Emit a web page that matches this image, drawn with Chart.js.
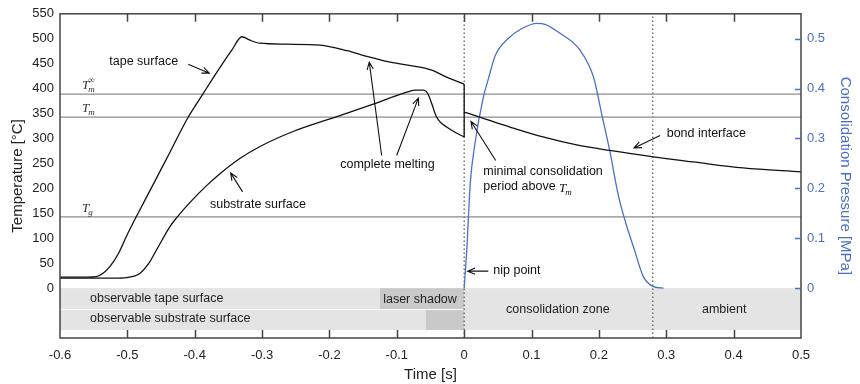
<!DOCTYPE html>
<html>
<head>
<meta charset="utf-8">
<script src="https://cdn.jsdelivr.net/npm/chart.js@4.4.0/dist/chart.umd.min.js"></script>
<style>
  html, body { margin: 0; background: #fff; }
  #wrap { width: 860px; height: 384px; }
</style>
</head>
<body>
<div id="wrap"><canvas id="myChart"></canvas></div>
<script>
(() => {
  'use strict'

  // tape surface temperature [°C] over time [s]
  const tapeTime = [-0.6, -0.56, -0.546, -0.536, -0.526, -0.513, -0.501, -0.486, -0.462, -0.437, -0.41, -0.387, -0.368, -0.345, -0.33, -0.318, -0.303, -0.264, -0.214, -0.174, -0.14, -0.11, -0.066, -0.046, -0.026, 0]
  const tapeTemp = [22, 22, 23, 30, 43, 70, 105, 145, 207, 272, 342, 391, 431, 477, 504, 497, 491, 489, 487, 476, 463, 453, 443, 436, 423, 409]

  // vertical drop at the nip point
  const jumpTime = [0, 0]
  const jumpTemp = [409, 303]

  // substrate surface temperature
  const subTime = [-0.6, -0.52, -0.501, -0.49, -0.481, -0.469, -0.457, -0.437, -0.427, -0.407, -0.382, -0.363, -0.333, -0.303, -0.254, -0.189, -0.135, -0.085, -0.072, -0.061, -0.056, -0.052, -0.048, -0.041, -0.034, -0.026, -0.013, 0]
  const subTemp = [20, 20, 21, 24, 30, 48, 76, 123, 141, 172, 206, 229, 260, 284, 314, 344, 369, 393, 397, 397, 394, 384, 369, 343, 331, 323, 312, 303]

  // bond interface temperature
  const bondTime = [0, 0.023, 0.068, 0.117, 0.167, 0.216, 0.281, 0.34, 0.414, 0.5]
  const bondTemp = [353, 343, 323, 303, 287, 276, 263, 253, 241, 233]

  // consolidation pressure [MPa]
  const presTime = [0, 0.004, 0.009, 0.016, 0.028, 0.036, 0.046, 0.065, 0.085, 0.108, 0.12, 0.14, 0.172, 0.192, 0.204, 0.216, 0.229, 0.24, 0.252, 0.266, 0.281, 0.296]
  const presVal = [0, 0.08, 0.21, 0.29, 0.38, 0.42, 0.466, 0.5, 0.52, 0.531, 0.529, 0.513, 0.477, 0.423, 0.35, 0.276, 0.185, 0.13, 0.08, 0.023, 0.003, 0]

  // reference temperatures T_m∞, T_m, T_g
  const refLevels = [389, 343, 143]
  const refSup = ['∞', '', '']
  const refSub = ['m', 'm', 'g']

  // dotted markers: nip point and end of consolidation
  const markerTimes = [0, 0.28]

  // zone band below the axis
  const zoneStart = [-0.6, -0.6, -0.125, -0.057, 0, 0.28]
  const zoneEnd = [-0.125, -0.057, 0, 0, 0.28, 0.5]
  const zoneRow = [1, 2, 1, 2, 0, 0]
  const zoneDark = [false, false, true, true, false, false]
  const zoneLabels = ['observable tape surface', 'observable substrate surface', 'laser shadow', 'consolidation zone', 'ambient']

  const xTicks = [-0.6, -0.5, -0.4, -0.3, -0.2, -0.1, 0, 0.1, 0.2, 0.3, 0.4, 0.5]
  const presTicks = [0, 0.1, 0.2, 0.3, 0.4, 0.5]

  const BLUE = '#4b6fc6'
  const SANS = '"Liberation Sans", Arial, sans-serif'
  const SERIF = '"Liberation Serif", "Times New Roman", serif'

  const pts = (xs, ys) => xs.map((x, i) => ({ x, y: ys[i] }))
  const line = (data, color, width, extra) => Object.assign({
    data, borderColor: color, borderWidth: width, pointRadius: 0,
    showLine: true, fill: false, tension: 0
  }, extra || {})
  const smooth = { cubicInterpolationMode: 'monotone' }

  const datasets = [
    line(pts(tapeTime, tapeTemp), '#111', 1.3, smooth),
    line(pts(jumpTime, jumpTemp), '#111', 1.3),
    line(pts(subTime, subTemp), '#111', 1.3, smooth),
    line(pts(bondTime, bondTemp), '#111', 1.3, smooth),
    line(pts(presTime, presVal), BLUE, 1.3, Object.assign({ yAxisID: 'y1' }, smooth))
  ]
  refLevels.forEach(v => {
    datasets.push(line([{ x: -0.6, y: v }, { x: 0.5, y: v }], '#8c8c8c', 1.3))
  })
  markerTimes.forEach(t => {
    datasets.push(line([{ x: t, y: -100 }, { x: t, y: 550 }], '#555', 1.2, { borderDash: [1.5, 2.5] }))
  })

  // annotation text, in data units
  const notes = [
    { text: 'tape surface', t: -0.5268, T: 454, align: 'left' },
    { text: 'substrate surface', t: -0.3774, T: 168, align: 'left' },
    { text: 'complete melting', t: -0.1139, T: 247, align: 'center' },
    { text: 'minimal consolidation', t: 0.0284, T: 233, align: 'left' },
    { text: 'period above ', t: 0.0284, T: 203, align: 'left', tm: true },
    { text: 'nip point', t: 0.0432, T: 35, align: 'left' },
    { text: 'bond interface', t: 0.3006, T: 309, align: 'left' }
  ]
  const arrows = [
    [-0.4096, 449, -0.3784, 431],
    [-0.3289, 193, -0.3467, 231],
    [-0.1225, 266, -0.1409, 453],
    [-0.1002, 266, -0.068, 381],
    [0.0468, 256, 0.0101, 334],
    [0.0358, 34, 0.0052, 34],
    [0.2907, 306, 0.2521, 281]
  ]
  const zoneText = [
    { t: -0.5555, T: -20, align: 'left' },
    { t: -0.5555, T: -62, align: 'left' },
    { t: -0.0656, T: -22, align: 'center' },
    { t: 0.139, T: -42, align: 'center' },
    { t: 0.386, T: -42, align: 'center' }
  ]

  const italicT = (ctx, x, y, sup, sub) => {
    ctx.font = 'italic 13px ' + SERIF
    ctx.textAlign = 'left'
    ctx.textBaseline = 'alphabetic'
    ctx.fillText('T', x, y)
    const w = ctx.measureText('T').width
    ctx.font = 'italic 9px ' + SERIF
    ctx.fillText(sub, x + w - 1, y + 3)
    if (sup) ctx.fillText(sup, x + w - 1, y - 6)
  }

  const zonePlugin = {
    id: 'zones',
    beforeDatasetsDraw (chart) {
      const { ctx, scales: { x, y } } = chart
      const rows = { 0: [0, -84], 1: [0, -42], 2: [-42, -84] }
      ctx.save()
      zoneStart.forEach((s, i) => {
        const [top, bot] = rows[zoneRow[i]]
        const x0 = x.getPixelForValue(s)
        const x1 = x.getPixelForValue(zoneEnd[i])
        const y0 = y.getPixelForValue(top) + (zoneRow[i] === 2 ? 1 : 0)
        const y1 = y.getPixelForValue(bot)
        ctx.fillStyle = zoneDark[i] ? '#c9c9c9' : '#e4e4e4'
        ctx.fillRect(x0, y0, x1 - x0, y1 - y0)
      })
      ctx.fillStyle = '#222'
      ctx.font = '12.5px ' + SANS
      ctx.textBaseline = 'middle'
      zoneLabels.forEach((s, i) => {
        const p = zoneText[i]
        ctx.textAlign = p.align
        ctx.fillText(s, x.getPixelForValue(p.t), y.getPixelForValue(p.T))
      })
      ctx.restore()
    },
    afterDatasetsDraw (chart) {
      const { ctx, chartArea: a, scales: { x, y, y1 } } = chart
      ctx.save()
      // frame
      ctx.strokeStyle = '#444'
      ctx.lineWidth = 1.5
      ctx.strokeRect(a.left, a.top, a.right - a.left, a.bottom - a.top)
      // inward ticks
      ctx.beginPath()
      xTicks.slice(1, -1).forEach(t => {
        const px = Math.round(x.getPixelForValue(t)) + 0.5
        ctx.moveTo(px, a.bottom); ctx.lineTo(px, a.bottom - 8)
        ctx.moveTo(px, a.top); ctx.lineTo(px, a.top + 8)
      })
      ctx.stroke()
      ctx.strokeStyle = BLUE
      ctx.beginPath()
      presTicks.forEach(v => {
        const py = Math.round(y1.getPixelForValue(v)) + 0.5
        ctx.moveTo(a.right, py); ctx.lineTo(a.right - 6, py)
      })
      ctx.stroke()
      // reference temperature labels
      ctx.fillStyle = '#333'
      refLevels.forEach((v, i) => {
        italicT(ctx, x.getPixelForValue(-0.5674), y.getPixelForValue(v) - 5, refSup[i], refSub[i])
      })
      // notes
      ctx.fillStyle = '#111'
      notes.forEach(n => {
        ctx.font = '12.5px ' + SANS
        ctx.textAlign = n.align
        ctx.textBaseline = 'middle'
        const px = x.getPixelForValue(n.t)
        const py = y.getPixelForValue(n.T)
        ctx.fillText(n.text, px, py)
        if (n.tm) {
          const w = ctx.measureText(n.text).width
          italicT(ctx, px + w, py + 5, '', 'm')
        }
      })
      // arrows
      ctx.strokeStyle = '#111'
      ctx.lineWidth = 1.1
      arrows.forEach(([t0, T0, t1, T1]) => {
        const x0 = x.getPixelForValue(t0), y0 = y.getPixelForValue(T0)
        const xh = x.getPixelForValue(t1), yh = y.getPixelForValue(T1)
        const ang = Math.atan2(yh - y0, xh - x0)
        ctx.beginPath()
        ctx.moveTo(x0, y0); ctx.lineTo(xh, yh)
        ctx.moveTo(xh - 8 * Math.cos(ang - 0.4), yh - 8 * Math.sin(ang - 0.4))
        ctx.lineTo(xh, yh)
        ctx.lineTo(xh - 8 * Math.cos(ang + 0.4), yh - 8 * Math.sin(ang + 0.4))
        ctx.stroke()
      })
      ctx.restore()
    }
  }

  const fmt = v => String(Math.round(v * 10) / 10)

  new Chart(document.getElementById('myChart'), {
    type: 'scatter',
    data: { datasets },
    plugins: [zonePlugin],
    options: {
      responsive: true,
      maintainAspectRatio: false,
      animation: false,
      layout: { padding: { top: 13, left: 0, right: 0, bottom: 0 } },
      plugins: { legend: { display: false }, tooltip: { enabled: false } },
      scales: {
        x: {
          type: 'linear',
          min: -0.6,
          max: 0.5,
          grid: { display: false, drawTicks: false },
          border: { display: false },
          afterBuildTicks: s => { s.ticks = xTicks.map(v => ({ value: v })) },
          afterFit: s => { s.height = 46 },
          ticks: { callback: fmt, padding: 10, color: '#222', font: { size: 13, family: SANS }, maxRotation: 0, autoSkip: false },
          title: { display: true, text: 'Time [s]', color: '#222', font: { size: 15, family: SANS }, padding: { top: 0, bottom: 0 } }
        },
        y: {
          min: -100,
          max: 550,
          grid: { display: false, drawTicks: false },
          border: { display: false },
          afterBuildTicks: s => { s.ticks = s.ticks.filter(t => t.value >= 0 && t.value % 50 === 0) },
          afterFit: s => { s.width = 60 },
          ticks: { stepSize: 50, padding: 6, color: '#222', font: { size: 13, family: SANS } },
          title: { display: true, text: 'Temperature [°C]', color: '#222', font: { size: 15, family: SANS }, padding: { top: 9, bottom: 0 } }
        },
        y1: {
          position: 'right',
          min: -0.1,
          max: 0.55,
          grid: { display: false, drawTicks: false },
          border: { display: false },
          afterBuildTicks: s => { s.ticks = presTicks.map(v => ({ value: v })) },
          afterFit: s => { s.width = 59 },
          ticks: { callback: fmt, padding: 6, color: BLUE, font: { size: 13, family: SANS } },
          title: { display: true, text: 'Consolidation Pressure [MPa]', color: BLUE, font: { size: 15, family: SANS }, padding: { top: 6, bottom: 0 } }
        }
      }
    }
  })
})()
</script>
</body>
</html>
